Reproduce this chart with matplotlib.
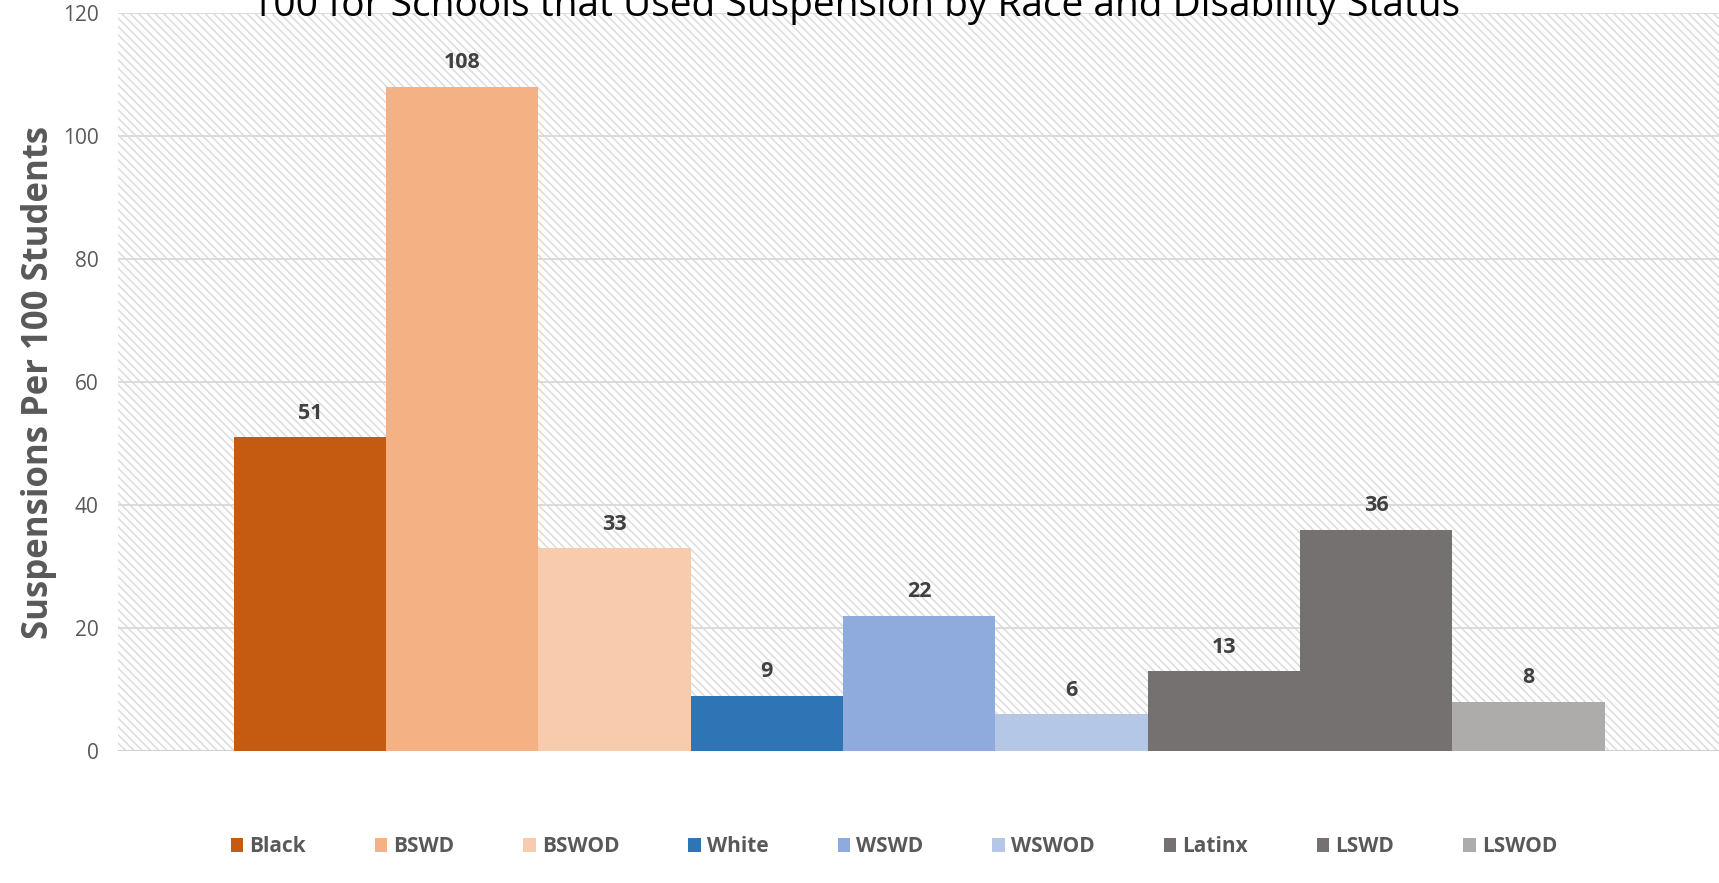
import matplotlib.pyplot as plt
from matplotlib.patches import Rectangle, Patch

# Suspensions per 100 students by group
groups = ['Black', 'BSWD', 'BSWOD', 'White', 'WSWD', 'WSWOD', 'Latinx', 'LSWD', 'LSWOD']
values = [51, 108, 33, 9, 22, 6, 13, 36, 8]
colors = ['#C55A11', '#F4B183', '#F8CBAD', '#2E75B6', '#8FAADC', '#B4C7E7',
          '#767171', '#767171', '#AEABAB']
y_ticks = [0, 20, 40, 60, 80, 100, 120]

plt.rcParams['font.family'] = ['Open Sans', 'DejaVu Sans']

fig = plt.figure(figsize=(17.19, 8.83), dpi=100)
ax = fig.add_axes([0.0686, 0.1495, 0.9314, 0.8358])

# light diagonal-stripe background
plt.rcParams['hatch.linewidth'] = 1.1
ax.add_patch(Rectangle((0, 0), 1, 1, transform=ax.transAxes, facecolor='white',
                       edgecolor='#DCDCDC', hatch='\\\\\\\\', linewidth=0, zorder=0))

for v in y_ticks[1:]:
    ax.axhline(v, color='#D9D9D9', linewidth=1.3, zorder=1)
ax.axhline(0, color='#D0D0D0', linewidth=1.5, zorder=1)

x = list(range(len(groups)))
ax.bar(x, values, width=1.0, color=colors, zorder=2)

for xi, v in zip(x, values):
    ax.text(xi, v + 3.9, str(v), ha='center', va='center', fontsize=15.5,
            fontweight='bold', color='#404040', zorder=3)

ax.set_xlim(-1.26, 9.25)
ax.set_ylim(0, 120)
ax.set_yticks(y_ticks)
ax.set_yticklabels([str(t) for t in y_ticks], fontsize=15, color='#595959')
ax.tick_params(axis='y', length=0, pad=14)
ax.set_xticks([])
for s in ax.spines.values():
    s.set_visible(False)

ax.set_ylabel('Suspensions Per 100 Students', fontsize=25, fontweight='bold',
              color='#595959', labelpad=4)

fig.text(0.498, 0.972, '100 for Schools that Used Suspension by Race and Disability Status',
         ha='center', va='bottom', fontsize=28, color='black')

handles = [Patch(facecolor=c, edgecolor='none') for c in colors]
leg = fig.legend(handles, groups, loc='center', bbox_to_anchor=(0.52, 0.041), ncol=9,
                 frameon=False, handlelength=0.6, handleheight=0.6, handletextpad=0.3,
                 columnspacing=3.3, prop={'size': 15, 'weight': 'bold'})
for t in leg.get_texts():
    t.set_color('#595959')

fig.savefig('out.png', dpi=100)
